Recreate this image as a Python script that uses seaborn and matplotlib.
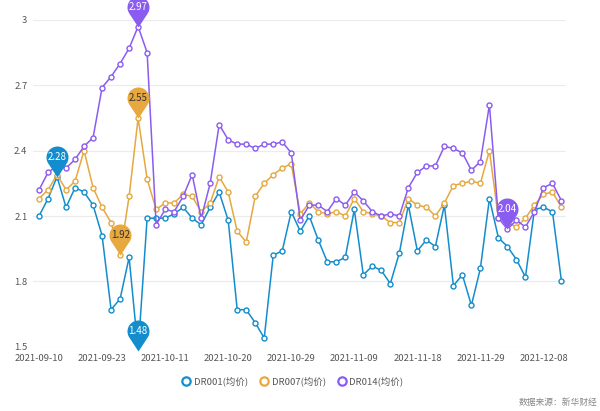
import numpy as np
import pandas as pd
import matplotlib
matplotlib.use("Agg")
import matplotlib.pyplot as plt
from matplotlib.path import Path
from matplotlib.lines import Line2D
import seaborn as sns

dates = ["2021-09-10", "2021-09-13", "2021-09-14", "2021-09-15", "2021-09-16", "2021-09-17",
         "2021-09-22", "2021-09-23", "2021-09-24", "2021-09-27", "2021-09-28", "2021-09-29",
         "2021-09-30", "2021-10-08", "2021-10-11", "2021-10-12", "2021-10-13", "2021-10-14",
         "2021-10-15", "2021-10-18", "2021-10-19", "2021-10-20", "2021-10-21", "2021-10-22",
         "2021-10-25", "2021-10-26", "2021-10-27", "2021-10-28", "2021-10-29", "2021-11-01",
         "2021-11-02", "2021-11-03", "2021-11-04", "2021-11-05", "2021-11-08", "2021-11-09",
         "2021-11-10", "2021-11-11", "2021-11-12", "2021-11-15", "2021-11-16", "2021-11-17",
         "2021-11-18", "2021-11-19", "2021-11-22", "2021-11-23", "2021-11-24", "2021-11-25",
         "2021-11-26", "2021-11-29", "2021-11-30", "2021-12-01", "2021-12-02", "2021-12-03",
         "2021-12-06", "2021-12-07", "2021-12-08", "2021-12-09", "2021-12-10"]

dr001 = [2.10, 2.18, 2.28, 2.14, 2.23, 2.21, 2.15, 2.01, 1.67, 1.72, 1.91, 1.48, 2.09,
         2.09, 2.09, 2.11, 2.14, 2.09, 2.06, 2.14, 2.21, 2.08, 1.67, 1.67, 1.61, 1.54,
         1.92, 1.94, 2.12, 2.03, 2.10, 1.99, 1.89, 1.89, 1.91, 2.13, 1.83, 1.87, 1.85,
         1.79, 1.93, 2.15, 1.94, 1.99, 1.96, 2.15, 1.78, 1.83, 1.69, 1.86, 2.18, 2.00,
         1.96, 1.90, 1.82, 2.13, 2.14, 2.12, 1.80]

dr007 = [2.18, 2.22, 2.29, 2.22, 2.26, 2.40, 2.23, 2.14, 2.07, 1.92, 2.19, 2.55, 2.27,
         2.13, 2.16, 2.16, 2.20, 2.19, 2.12, 2.16, 2.28, 2.21, 2.03, 1.98, 2.19, 2.25,
         2.29, 2.32, 2.34, 2.11, 2.16, 2.12, 2.11, 2.12, 2.10, 2.18, 2.12, 2.11, 2.10,
         2.07, 2.07, 2.18, 2.15, 2.14, 2.10, 2.16, 2.24, 2.25, 2.26, 2.25, 2.40, 2.09,
         2.07, 2.05, 2.09, 2.15, 2.20, 2.21, 2.14]

dr014 = [2.22, 2.30, 2.33, 2.32, 2.36, 2.42, 2.46, 2.69, 2.74, 2.80, 2.87, 2.97, 2.85,
         2.06, 2.13, 2.12, 2.19, 2.29, 2.09, 2.25, 2.52, 2.45, 2.43, 2.43, 2.41, 2.43,
         2.43, 2.44, 2.39, 2.08, 2.15, 2.15, 2.12, 2.18, 2.15, 2.21, 2.17, 2.12, 2.10,
         2.11, 2.10, 2.23, 2.30, 2.33, 2.33, 2.42, 2.41, 2.39, 2.31, 2.35, 2.61, 2.09,
         2.04, 2.08, 2.05, 2.12, 2.23, 2.25, 2.17]

series_names = ["DR001(均价)", "DR007(均价)", "DR014(均价)"]
series_values = [dr001, dr007, dr014]
colors = ["#138dcd", "#e6a83f", "#8a5cf0"]
pin_text_colors = ["white", "#333333", "white"]
yticks = [1.5, 1.8, 2.1, 2.4, 2.7, 3.0]
ytick_labels = ["1.5", "1.8", "2.1", "2.4", "2.7", "3"]
source_text = "数据来源：新华财经"

sns.set_style("white")
plt.rcParams["font.family"] = ["Noto Sans CJK SC", "DejaVu Sans"]

fig = plt.figure(figsize=(6, 4.11), dpi=100)
ax = fig.add_axes([0.055, 0.1564, 0.888, 0.795])

x = np.arange(len(dates))
frames = []
for name, vals in zip(series_names, series_values):
    frames.append(pd.DataFrame({"idx": x, "value": vals, "series": name}))
df = pd.concat(frames, ignore_index=True)

for name, col in zip(series_names, colors):
    sub = df[df["series"] == name]
    sns.lineplot(data=sub, x="idx", y="value", ax=ax, color=col, lw=1.1,
                 marker="o", markersize=3.6, markerfacecolor="white",
                 markeredgecolor=col, markeredgewidth=1.0, sort=False,
                 legend=False, zorder=3)

# pin (teardrop) marker with tip at origin
r, c = 11.0, 20.0
gam = np.arccos(r / c)
angs = np.linspace(-np.pi / 2 + gam, 3 * np.pi / 2 - gam, 60)
verts = [(0.0, 0.0)] + [(r * np.cos(a), c + r * np.sin(a)) for a in angs] + [(0.0, 0.0)]
codes = [Path.MOVETO] + [Path.LINETO] * (len(verts) - 2) + [Path.CLOSEPOLY]
pin = Path(verts, codes)
top_px = c + r
ms = 2 * top_px * 72 / 100.0
center_pt = c * 72 / 100.0

for vals, col, tcol in zip(series_values, colors, pin_text_colors):
    arr = np.array(vals)
    for i in (int(np.argmax(arr)), int(np.argmin(arr))):
        ax.plot([i], [arr[i]], marker=pin, markersize=ms, color=col, mew=0,
                linestyle="none", zorder=6, clip_on=False)
        ax.annotate(f"{arr[i]:.2f}", (i, arr[i]), xytext=(0, center_pt),
                    textcoords="offset points", ha="center", va="center",
                    fontsize=7, color=tcol, zorder=7, annotation_clip=False)

ax.set_xlim(-0.67, 58.48)
ax.set_ylim(1.5, 3.0)
ax.set_yticks(yticks)
ax.set_yticklabels(ytick_labels)
tick_idx = list(range(0, len(dates), 7))
ax.set_xticks(tick_idx)
ax.set_xticklabels([dates[i] for i in tick_idx])
ax.tick_params(axis="y", length=0, pad=4, labelsize=6.8, labelcolor="#555555")
ax.tick_params(axis="x", length=0, pad=5, labelsize=6.8, labelcolor="#555555")
ax.set_xlabel("")
ax.set_ylabel("")
for s in ax.spines.values():
    s.set_visible(False)
ax.yaxis.grid(True, color="#ebebeb", lw=0.8)
ax.xaxis.grid(False)
ax.set_axisbelow(True)

handles = [Line2D([], [], color=col, marker="o", linestyle="none", markersize=6,
                  markerfacecolor="white", markeredgewidth=1.6, markeredgecolor=col)
           for col in colors]
fig.legend(handles, series_names, loc="center", bbox_to_anchor=(0.4875, 0.073),
           ncol=3, frameon=False, fontsize=6.8, labelcolor="#555555",
           handletextpad=0.3, columnspacing=1.2, handlelength=1.0)

fig.text(0.995, 0.02, source_text, ha="right", va="center", fontsize=6.3, color="#888888")

fig.savefig("out.png", dpi=100)
